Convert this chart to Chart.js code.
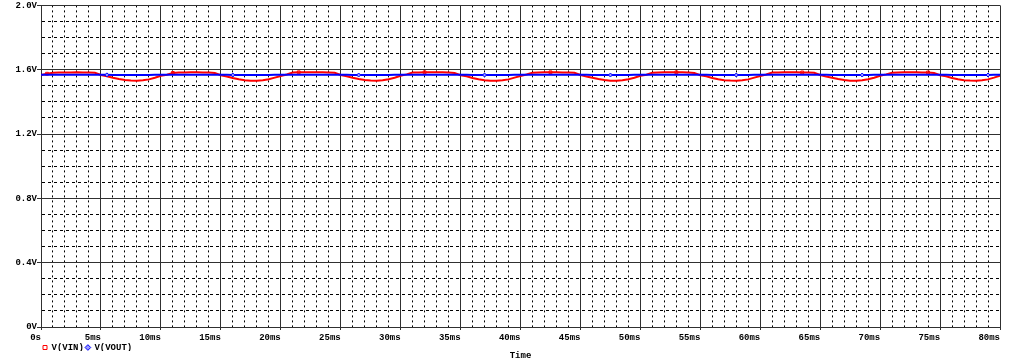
<!DOCTYPE html>
<html>
<head>
<meta charset="utf-8">
<script src="https://cdn.jsdelivr.net/npm/chart.js@4"></script>
<style>
html,body{margin:0;padding:0;background:#fff;}
#wrap{width:1024px;height:362px;position:relative;}
</style>
</head>
<body>
<div id="wrap"><canvas id="c"></canvas></div>
<script>
// Sample times (ms)
const timeMs = [
 0,0.5,1,1.5,2,2.5,3,3.5,4,4.5,5,5.5,6,6.5,7,7.5,8,8.5,9,9.5,
 10,10.5,11,11.5,12,12.5,13,13.5,14,14.5,15,15.5,16,16.5,17,17.5,18,18.5,19,19.5,
 20,20.5,21,21.5,22,22.5,23,23.5,24,24.5,25,25.5,26,26.5,27,27.5,28,28.5,29,29.5,
 30,30.5,31,31.5,32,32.5,33,33.5,34,34.5,35,35.5,36,36.5,37,37.5,38,38.5,39,39.5,
 40,40.5,41,41.5,42,42.5,43,43.5,44,44.5,45,45.5,46,46.5,47,47.5,48,48.5,49,49.5,
 50,50.5,51,51.5,52,52.5,53,53.5,54,54.5,55,55.5,56,56.5,57,57.5,58,58.5,59,59.5,
 60,60.5,61,61.5,62,62.5,63,63.5,64,64.5,65,65.5,66,66.5,67,67.5,68,68.5,69,69.5,
 70,70.5,71,71.5,72,72.5,73,73.5,74,74.5,75,75.5,76,76.5,77,77.5,78,78.5,79,79.5,
 80
];
// V(VIN) values (V)
const vin = [
 1.567,1.575,1.581,1.582,1.583,1.583,1.584,1.583,1.583,1.581,1.567,1.559,1.550,1.542,1.536,1.533,1.532,1.534,1.540,1.550,
 1.562,1.569,1.580,1.582,1.583,1.584,1.584,1.583,1.582,1.580,1.566,1.558,1.549,1.541,1.535,1.532,1.532,1.535,1.541,1.551,
 1.561,1.570,1.582,1.584,1.585,1.585,1.584,1.584,1.583,1.581,1.567,1.559,1.550,1.542,1.536,1.533,1.532,1.534,1.541,1.550,
 1.562,1.571,1.582,1.583,1.584,1.585,1.585,1.584,1.582,1.580,1.566,1.559,1.549,1.541,1.535,1.532,1.531,1.534,1.540,1.551,
 1.561,1.570,1.581,1.583,1.584,1.584,1.585,1.583,1.582,1.581,1.567,1.558,1.550,1.542,1.536,1.532,1.532,1.535,1.541,1.550,
 1.562,1.569,1.581,1.583,1.584,1.585,1.584,1.584,1.583,1.580,1.566,1.559,1.549,1.541,1.535,1.533,1.532,1.534,1.540,1.551,
 1.561,1.570,1.582,1.583,1.584,1.584,1.584,1.583,1.582,1.581,1.567,1.558,1.550,1.542,1.536,1.532,1.532,1.535,1.541,1.550,
 1.562,1.571,1.581,1.583,1.584,1.585,1.584,1.583,1.583,1.580,1.566,1.559,1.549,1.541,1.535,1.533,1.532,1.534,1.540,1.551,
 1.563
];
// V(VOUT) values (V)
const vout = [
 1.568,1.568,1.568,1.569,1.569,1.569,1.569,1.569,1.569,1.568,1.568,1.568,1.567,1.567,1.567,1.567,1.567,1.567,1.567,1.568,
 1.568,1.568,1.568,1.569,1.569,1.569,1.569,1.569,1.569,1.568,1.568,1.568,1.567,1.567,1.567,1.567,1.567,1.567,1.567,1.568,
 1.568,1.568,1.569,1.569,1.569,1.569,1.569,1.569,1.569,1.568,1.568,1.568,1.567,1.567,1.567,1.567,1.567,1.567,1.567,1.568,
 1.568,1.568,1.569,1.569,1.569,1.569,1.569,1.569,1.569,1.568,1.568,1.568,1.567,1.567,1.567,1.567,1.567,1.567,1.567,1.568,
 1.568,1.568,1.568,1.569,1.569,1.569,1.569,1.569,1.569,1.568,1.568,1.568,1.567,1.567,1.567,1.567,1.567,1.567,1.567,1.568,
 1.568,1.568,1.569,1.569,1.569,1.569,1.569,1.569,1.569,1.568,1.568,1.568,1.567,1.567,1.567,1.567,1.567,1.567,1.567,1.568,
 1.568,1.568,1.568,1.569,1.569,1.569,1.569,1.569,1.569,1.568,1.568,1.568,1.567,1.567,1.567,1.567,1.567,1.567,1.567,1.568,
 1.568,1.568,1.569,1.569,1.569,1.569,1.569,1.569,1.569,1.568,1.568,1.568,1.567,1.567,1.567,1.567,1.567,1.567,1.567,1.568,
 1.568
];
// Axis settings / tick labels
const xMin = 0, xMax = 80, xMinorStep = 1, xMajorEvery = 5;
const yMin = 0, yMax = 2.0, yMinorStep = 0.1, yMajorEvery = 4;
const xTickLabel = v => v === 0 ? '0s' : v + 'ms';
const yTickLabel = v => v === 0 ? '0V' : v.toFixed(1) + 'V';
const seriesNames = ['V(VIN)', 'V(VOUT)'];
const xTitle = 'Time';

const FONT = {family: "'Liberation Mono', 'DejaVu Sans Mono', monospace", size: 9, weight: 'bold'};

const isMajorX = v => Math.abs(Math.round(v) - v) < 1e-6 && Math.round(v) % xMajorEvery === 0;
const isMajorY = v => Math.round(v * 10) % yMajorEvery === 0;

const toXY = arr => arr.map((y, i) => ({x: timeMs[i], y}));

const markerIdx = (ctx, every, off) => (ctx.dataIndex % every === off) ? 2 : 0;

new Chart(document.getElementById('c'), {
  type: 'line',
  data: {
    datasets: [
      {
        label: seriesNames[0],
        data: toXY(vin),
        borderColor: '#ff0000',
        backgroundColor: 'rgba(255,255,255,0)',
        borderWidth: 2,
        pointStyle: 'rect',
        pointRadius: ctx => markerIdx(ctx, 21, 1),
        pointBorderWidth: 1,
        pointBorderColor: '#ff0000',
        pointBackgroundColor: 'rgba(255,255,255,0)',
        tension: 0,
        order: 1
      },
      {
        label: seriesNames[1],
        data: toXY(vout),
        borderColor: '#0000ff',
        backgroundColor: '#9999ff',
        borderWidth: 2,
        pointStyle: 'rectRot',
        pointRadius: ctx => markerIdx(ctx, 21, 11),
        pointBorderWidth: 1,
        pointBorderColor: '#0000ff',
        pointBackgroundColor: '#9999ff',
        tension: 0,
        order: 0
      }
    ]
  },
  options: {
    responsive: true,
    maintainAspectRatio: false,
    animation: false,
    layout: {padding: {top: 5, right: 24, bottom: 0, left: 0}},
    scales: {
      x: {
        type: 'linear',
        min: xMin, max: xMax,
        afterFit: s => { s.height = 14; },
        ticks: {
          stepSize: xMinorStep,
          autoSkip: false,
          maxRotation: 0,
          align: 'end',
          padding: 2,
          color: '#000',
          font: FONT,
          callback: v => isMajorX(v) ? xTickLabel(v) : ''
        },
        grid: {
          color: ctx => (ctx.tick && isMajorX(ctx.tick.value)) ? '#303030' : '#000',
          lineWidth: 1,
          drawTicks: true,
          tickLength: 3,
          tickColor: ctx => (ctx.tick && isMajorX(ctx.tick.value)) ? '#303030' : 'rgba(0,0,0,0)'
        },
        border: {
          display: true,
          color: '#303030',
          width: 1,
          dash: ctx => (ctx.tick && !isMajorX(ctx.tick.value)) ? [2, 3] : []
        }
      },
      y: {
        type: 'linear',
        min: yMin, max: yMax,
        afterFit: s => { s.width = 41; },
        ticks: {
          stepSize: yMinorStep,
          autoSkip: false,
          padding: 0,
          color: '#000',
          font: FONT,
          callback: v => isMajorY(v) ? yTickLabel(v) : ''
        },
        grid: {
          color: ctx => (ctx.tick && isMajorY(ctx.tick.value)) ? '#303030' : '#000',
          lineWidth: 1,
          drawTicks: true,
          tickLength: 4,
          tickColor: ctx => (ctx.tick && isMajorY(ctx.tick.value)) ? '#303030' : 'rgba(0,0,0,0)'
        },
        border: {
          display: true,
          color: '#303030',
          width: 1,
          dash: ctx => (ctx.tick && !isMajorY(ctx.tick.value)) ? [3, 3] : []
        }
      }
    },
    plugins: {
      tooltip: {enabled: false},
      legend: {
        display: true,
        position: 'bottom',
        align: 'start',
        fullSize: false,
        maxHeight: 10,
        labels: {
          usePointStyle: true,
          boxWidth: 4,
          boxHeight: 4,
          padding: 2,
          color: '#000',
          font: FONT,
          generateLabels: chart => Chart.defaults.plugins.legend.labels.generateLabels(chart)
            .sort((a, b) => a.datasetIndex - b.datasetIndex)
            .map(l => Object.assign(l, {lineWidth: 1}))
        }
      },
      title: {
        display: true,
        text: xTitle,
        position: 'bottom',
        fullSize: false,
        color: '#000',
        font: Object.assign({}, FONT, {lineHeight: 1}),
        padding: {top: 0, bottom: 2}
      }
    }
  }
});
</script>
</body>
</html>
